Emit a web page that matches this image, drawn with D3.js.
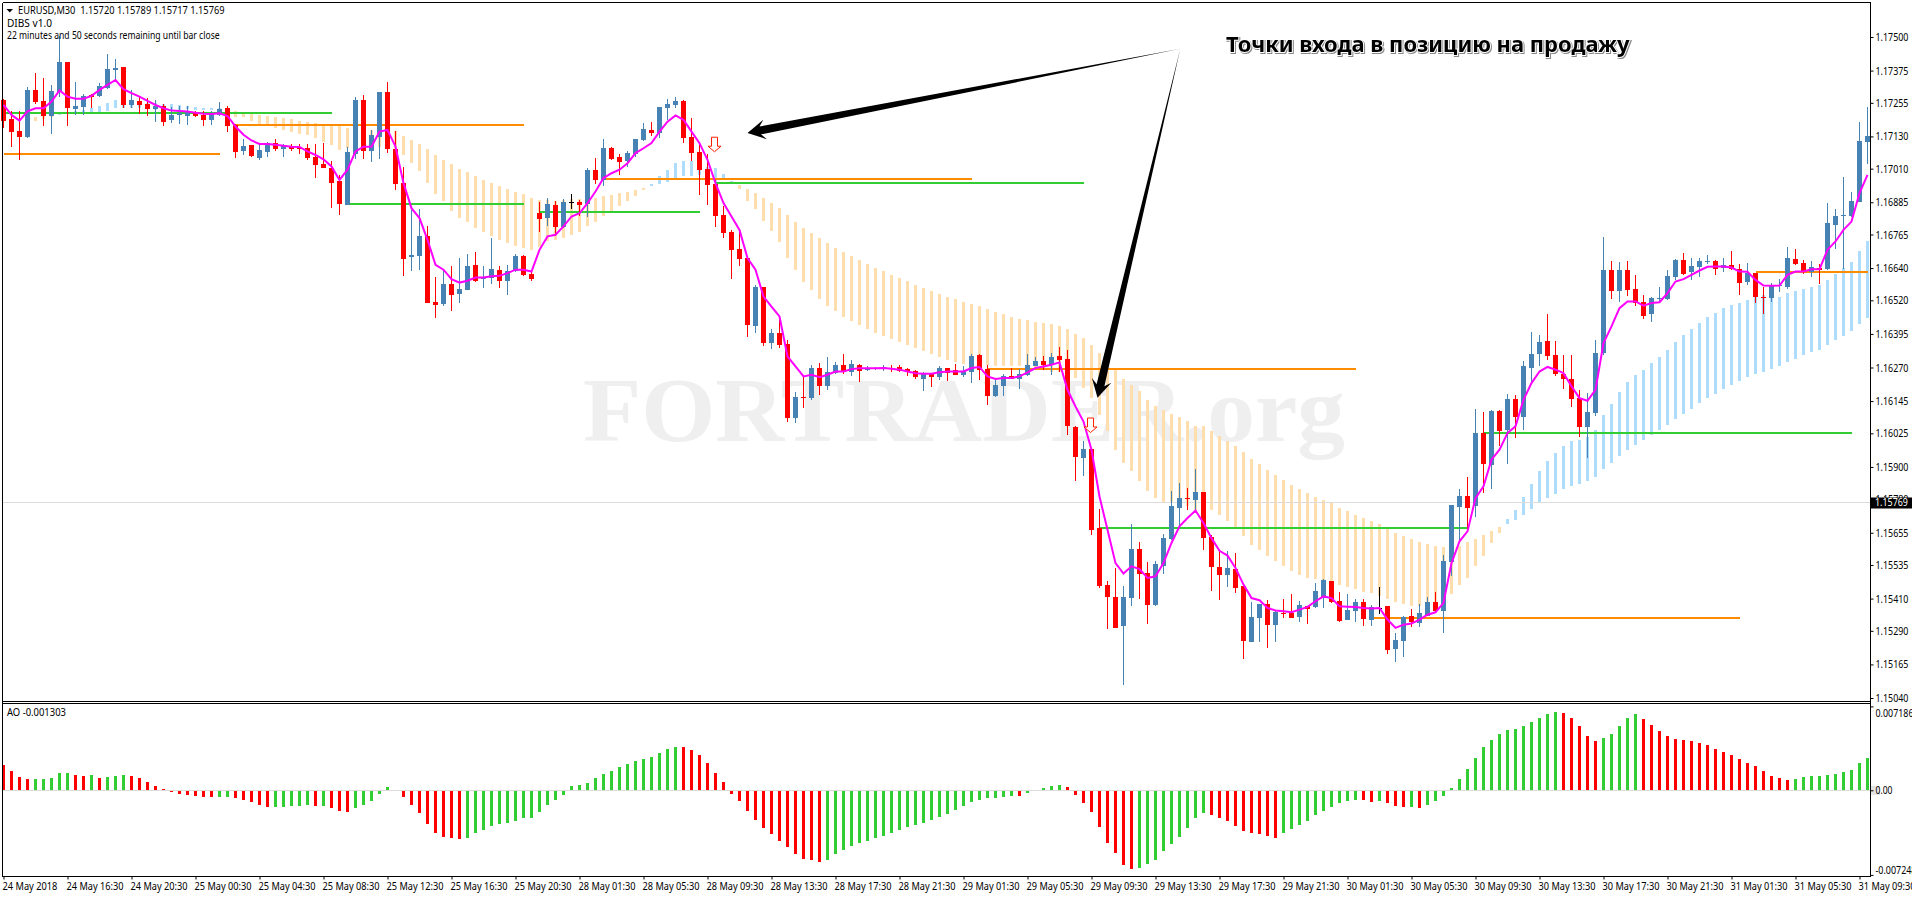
<!DOCTYPE html>
<html><head><meta charset="utf-8">
<script src="https://cdnjs.cloudflare.com/ajax/libs/d3/7.8.5/d3.min.js"></script>
<style>
html,body{margin:0;padding:0;background:#fff;overflow:hidden}
svg{display:block}
text{font-family:"Noto Sans",sans-serif;font-size:11px;fill:#000;white-space:pre}
.tick text{font-family:"Noto Sans",sans-serif;font-size:11px}
</style></head><body><svg id="c" width="1912" height="897"></svg>
<script>
// All prices are stored as points above 1.00000 (17266 = 1.17266)
const opens=[17266,17195,17151,17127,17303,17262,17206,17297,17407,17233,17240,17285,17281,17311,17379,17389,17247,17262,17251,17233,17244,17192,17210,17206,17221,17210,17192,17210,17236,17173,17076,17099,17050,17073,17106,17084,17095,17091,17087,17054,17028,17013,16965,16875,17065,17266,17076,17128,17296,17084,16957,16682,16686,16760,16515,16507,16582,16544,16559,16652,16599,16604,16634,16593,16630,16686,16619,16846,16827,16875,16794,16887,16887,16879,17006,16968,17087,17054,17039,17065,17117,17154,17143,17236,17247,17262,17128,17073,17009,16954,16838,16775,16712,16678,16425,16570,16362,16399,16358,16083,16161,16157,16269,16202,16250,16280,16254,16280,16262,16265,16265,16269,16273,16265,16258,16228,16247,16236,16269,16262,16243,16254,16317,16265,16165,16202,16239,16228,16243,16276,16295,16280,16314,16302,16050,15934,15968,15674,15462,15417,15309,15413,15596,15506,15387,15532,15633,15748,15785,15778,15808,15640,15529,15499,15521,15458,15250,15339,15391,15313,15358,15358,15343,15384,15380,15413,15477,15402,15332,15365,15399,15332,15376,15384,15224,15253,15346,15320,15346,15399,15365,15547,15752,15793,15756,16027,15908,16109,16038,16154,16087,16269,16321,16369,16317,16247,16228,16157,16050,16102,16325,16634,16555,16634,16563,16515,16470,16526,16526,16608,16671,16626,16645,16662,16667,16641,16652,16637,16589,16622,16533,16529,16574,16570,16674,16660,16626,16641,16637,16801,16834,16834,16887,17110];
const closes=[17189,17147,17128,17303,17259,17206,17299,17407,17237,17244,17280,17276,17318,17381,17385,17247,17266,17247,17233,17244,17184,17210,17218,17225,17206,17192,17218,17233,17169,17073,17095,17058,17080,17106,17084,17099,17084,17084,17050,17024,17013,16957,16879,17073,17266,17076,17136,17296,17084,16954,16674,16689,16760,16511,16503,16582,16541,16563,16648,16593,16608,16637,16593,16630,16686,16615,16600,16823,16879,16794,16887,16887,16875,17006,16968,17087,17047,17035,17069,17121,17158,17143,17240,17251,17262,17125,17069,17006,16950,16835,16771,16708,16674,16429,16570,16362,16399,16355,16083,16161,16157,16269,16202,16254,16280,16254,16284,16258,16269,16268,16273,16265,16258,16254,16236,16249,16236,16269,16250,16243,16258,16314,16262,16165,16206,16239,16228,16247,16280,16295,16279,16310,16299,16053,15938,15968,15666,15458,15417,15302,15417,15596,15503,15387,15540,15637,15756,15785,15782,15808,15637,15529,15499,15525,15451,15253,15343,15391,15313,15361,15354,15339,15387,15372,15440,15480,15399,15328,15369,15399,15335,15380,15376,15220,15257,15343,15324,15358,15399,15365,15551,15759,15793,15748,16027,15912,16109,16035,16154,16087,16276,16321,16366,16314,16247,16228,16154,16050,16105,16325,16634,16555,16634,16559,16511,16462,16529,16529,16611,16671,16619,16648,16667,16666,16637,16652,16637,16585,16622,16533,16529,16574,16578,16678,16656,16626,16645,16634,16808,16834,16838,16890,17113,17132];
const highs=[17268,17223,17223,17313,17365,17347,17322,17502,17407,17334,17288,17288,17328,17437,17417,17389,17303,17281,17272,17266,17251,17241,17244,17244,17225,17223,17225,17259,17244,17177,17121,17099,17102,17110,17120,17102,17102,17102,17102,17102,17105,17038,16987,17091,17277,17285,17154,17296,17333,17151,17018,16857,16861,16797,16608,16634,16648,16678,16693,16701,16648,16753,16648,16652,16693,16689,16630,16887,16901,16890,16898,16916,16894,17013,17050,17121,17091,17065,17076,17121,17180,17184,17240,17270,17277,17266,17199,17110,17065,16968,16872,16782,16782,16678,16578,16570,16414,16462,16373,16180,16239,16280,16288,16310,16289,16321,16299,16284,16274,16272,16278,16280,16280,16269,16262,16254,16250,16276,16269,16284,16274,16321,16321,16280,16224,16247,16269,16265,16321,16310,16314,16325,16348,16336,16053,15998,15968,15745,15477,15525,15458,15689,15622,15547,15551,15652,15811,15841,15823,15893,15808,15648,15592,15588,15581,15458,15399,15391,15406,15365,15410,15428,15402,15384,15469,15484,15477,15436,15428,15410,15410,15387,15454,15384,15283,15346,15372,15391,15417,15436,15573,15759,15819,15864,16117,16105,16113,16113,16172,16169,16295,16403,16392,16470,16369,16317,16317,16187,16176,16373,16756,16667,16663,16667,16615,16541,16533,16570,16634,16675,16697,16678,16678,16689,16671,16678,16704,16656,16660,16622,16570,16585,16600,16719,16712,16671,16667,16656,16883,16860,16979,16924,17184,17240];
const lows=[17161,17092,17043,17123,17251,17169,17140,17276,17167,17210,17210,17234,17276,17308,17340,17234,17235,17214,17206,17184,17169,17179,17177,17173,17204,17169,17173,17206,17147,17050,17060,17055,17043,17053,17076,17053,17076,17065,17043,16976,17013,16864,16838,16875,17047,17045,17035,17047,17069,16931,16611,16630,16634,16511,16455,16500,16481,16511,16559,16589,16567,16582,16567,16541,16626,16611,16593,16775,16797,16760,16790,16860,16834,16831,16953,16946,17043,16987,17018,17055,17113,17132,17125,17192,17236,17106,17039,16913,16875,16794,16753,16600,16648,16384,16399,16351,16340,16343,16068,16064,16120,16150,16169,16187,16247,16247,16237,16217,16258,16262,16258,16254,16254,16239,16228,16183,16198,16224,16221,16243,16236,16213,16224,16131,16162,16165,16228,16191,16239,16276,16262,16243,16254,16020,15849,15867,15648,15451,15298,15302,15090,15384,15410,15317,15384,15503,15629,15670,15741,15741,15592,15440,15406,15454,15432,15186,15250,15250,15227,15250,15339,15339,15324,15317,15376,15376,15395,15324,15332,15324,15309,15309,15354,15205,15175,15194,15306,15306,15346,15361,15283,15495,15629,15666,15715,15804,15819,15979,15912,16009,16038,16213,16276,16299,16239,16191,16124,16012,15934,16090,16317,16526,16515,16537,16500,16451,16440,16510,16522,16596,16615,16596,16608,16656,16615,16626,16634,16541,16578,16511,16470,16515,16552,16563,16652,16619,16608,16582,16634,16712,16637,16831,16887,17028];
const signalLine=[17247,17210,17189,17223,17235,17235,17260,17301,17278,17270,17270,17281,17303,17322,17340,17306,17291,17278,17262,17247,17235,17226,17225,17223,17218,17214,17213,17216,17206,17167,17136,17115,17102,17102,17099,17095,17092,17091,17074,17061,17045,17018,16968,17006,17074,17092,17092,17148,17154,17092,16956,16863,16826,16745,16652,16634,16599,16586,16593,16605,16605,16610,16611,16621,16634,16634,16627,16708,16758,16764,16795,16832,16844,16882,16925,16975,16993,17006,17030,17068,17086,17105,17148,17185,17208,17192,17148,17105,17043,16956,16882,16832,16782,16677,16634,16534,16497,16460,16311,16274,16237,16243,16234,16243,16255,16255,16264,16267,16267,16267,16268,16265,16262,16255,16249,16247,16247,16252,16255,16255,16255,16268,16272,16237,16227,16231,16231,16237,16252,16268,16274,16280,16289,16187,16125,16069,15964,15790,15666,15542,15503,15530,15520,15487,15493,15542,15617,15679,15710,15738,15691,15635,15588,15570,15524,15462,15412,15404,15375,15366,15363,15359,15369,15379,15400,15418,15412,15381,15380,15379,15375,15373,15375,15332,15301,15313,15317,15332,15350,15359,15394,15542,15623,15660,15784,15828,15927,15964,16026,16051,16150,16212,16255,16272,16262,16249,16200,16156,16146,16187,16361,16423,16491,16516,16516,16500,16510,16513,16547,16590,16599,16615,16631,16645,16646,16646,16642,16627,16626,16596,16575,16574,16575,16615,16627,16627,16636,16636,16708,16739,16782,16813,16919,16987];
const cloudTop=[null,null,null,null,17204,17206,17210,17216,17219,17223,17229,17237,17244,17256,17266,17266,17264,17260,17256,17254,17251,17250,17247,17244,17239,17236,17236,17235,17229,17225,17219,17214,17210,17206,17203,17199,17195,17188,17184,17180,17177,17173,17169,17161,17161,17157,17154,17154,17154,17151,17132,17117,17102,17084,17061,17043,17028,17009,16998,16983,16968,16957,16946,16935,16924,16916,16901,16894,16894,16890,16894,16898,16898,16898,16901,16909,16913,16920,16924,16931,16939,16953,16981,17006,17030,17039,17039,17030,17018,17014,16991,16965,16950,16935,16920,16901,16883,16864,16838,16812,16790,16771,16753,16734,16715,16701,16686,16671,16656,16641,16630,16615,16604,16593,16578,16567,16555,16544,16533,16526,16515,16507,16500,16488,16477,16470,16459,16451,16448,16440,16436,16433,16425,16414,16396,16381,16355,16324,16286,16259,16228,16206,16181,16150,16128,16113,16098,16085,16072,16053,16051,16035,16016,15997,15979,15954,15930,15911,15890,15871,15852,15834,15819,15804,15789,15778,15767,15748,15737,15722,15711,15700,15689,15670,15655,15644,15633,15622,15614,15607,15603,15592,15607,15622,15633,15648,15663,15678,15707,15741,15789,15838,15886,15923,15953,15979,15997,16001,16012,16038,16094,16135,16180,16217,16243,16262,16288,16310,16336,16366,16392,16414,16436,16459,16474,16492,16503,16511,16522,16533,16541,16533,16533,16548,16555,16563,16570,16578,16596,16619,16641,16663,16704,16741];
const cloudBottom=[null,null,null,null,17189,17194,17202,17210,17214,17216,17216,17220,17220,17225,17234,17235,17235,17235,17233,17229,17223,17223,17229,17231,17229,17229,17229,17226,17216,17204,17203,17188,17173,17169,17162,17154,17147,17140,17136,17125,17111,17099,17080,17086,17086,17092,17092,17092,17092,17080,17061,17030,17002,16958,16916,16888,16853,16827,16812,16790,16775,16760,16745,16734,16723,16715,16708,16720,16739,16745,16753,16764,16776,16795,16813,16832,16851,16872,16888,16909,16931,16944,16953,16962,16975,16981,16983,16987,16978,16956,16975,16961,16935,16890,16860,16816,16779,16738,16678,16634,16589,16559,16526,16500,16481,16459,16444,16429,16414,16399,16388,16377,16366,16355,16343,16332,16321,16310,16299,16291,16284,16284,16280,16280,16276,16276,16276,16274,16264,16262,16259,16255,16252,16249,16231,16193,16156,16092,16032,15964,15914,15883,15849,15809,15784,15768,15766,15759,15753,15741,15741,15741,15720,15700,15676,15642,15611,15592,15567,15549,15530,15514,15499,15488,15484,15474,15468,15462,15454,15447,15436,15432,15421,15410,15399,15391,15384,15384,15380,15391,15406,15428,15462,15488,15530,15570,15618,15655,15689,15704,15722,15745,15767,15785,15800,15819,15830,15838,15849,15864,15893,15916,15942,15964,15983,16001,16020,16038,16057,16079,16098,16115,16139,16157,16172,16191,16206,16221,16236,16247,16254,16265,16276,16291,16302,16317,16329,16336,16355,16373,16388,16407,16433,16455];
const cloudBlueRanges=[[7,27],[81,91],[188,233]];
// Awesome Oscillator, millionths
const aoValues=[2174,1659,1144,972,972,972,1058,1487,1487,1316,1230,1316,1058,1144,1230,1316,1230,1058,715,372,114,-114,-315,-400,-486,-572,-601,-572,-572,-658,-829,-1001,-1258,-1430,-1430,-1430,-1344,-1344,-1258,-1344,-1344,-1516,-1773,-1859,-1516,-1258,-915,-315,286,0,-572,-1258,-1945,-2889,-3661,-4004,-4090,-4176,-4090,-3661,-3403,-3060,-2889,-2803,-2631,-2374,-2374,-1859,-1258,-829,-400,372,458,629,1058,1401,1659,2002,2259,2517,2688,2860,3203,3546,3718,3689,3461,3032,2345,1487,715,-315,-915,-1773,-2545,-3232,-3747,-4347,-4862,-5463,-5892,-5977,-6149,-5977,-5463,-5119,-4776,-4519,-4347,-4090,-3918,-3661,-3403,-3146,-2974,-2803,-2545,-2288,-2031,-1687,-1344,-1001,-829,-658,-658,-572,-486,-515,-229,0,200,372,458,286,-400,-1087,-1859,-3146,-4519,-5377,-6406,-6750,-6664,-6321,-5977,-5205,-4605,-4004,-3232,-2374,-1945,-2116,-2374,-2631,-3060,-3489,-3661,-3747,-3918,-4090,-3661,-3318,-2974,-2631,-2116,-1773,-1430,-1087,-915,-829,-858,-1001,-915,-1087,-1344,-1430,-1430,-1516,-1258,-915,-486,200,972,1830,2774,3718,4319,4833,5177,5262,5520,5863,6206,6549,6721,6635,6206,5520,4662,4233,4490,4833,5520,6206,6549,6120,5606,5091,4662,4404,4319,4233,4061,3890,3546,3289,3032,2688,2345,2088,1659,1230,1058,887,972,1144,1230,1230,1316,1401,1573,1745,2345,2774];
// Horizontal levels: [first bar, last bar, price points]
const orangeLevels=[[0,27,17065],[29,65,17173],[75,121,16972],[123,169,16265],[171,217,15337],[219,233,16624]];
const greenLevels=[[0,41,17219],[43,65,16879],[67,87,16847],[89,135,16955],[137,183,15674],[185,231,16028]];
const sellSignals=[[89,17127],[136,16082]];
// Callout arrows: [bar, price points]
const calloutTail=[147.1,17456];
const calloutTips=[[93,17143],[136.75,16157]];
const priceTicks=["1.17500","1.17375","1.17255","1.17130","1.17010","1.16885","1.16765","1.16640","1.16520","1.16395","1.16270","1.16145","1.16025","1.15900","1.15780","1.15655","1.15535","1.15410","1.15290","1.15165","1.15040"];
const aoTicks=["0.007186","0.00","-0.007248"];
const timeLabels=["24 May 2018","24 May 16:30","24 May 20:30","25 May 00:30","25 May 04:30","25 May 08:30","25 May 12:30","25 May 16:30","25 May 20:30","28 May 01:30","28 May 05:30","28 May 09:30","28 May 13:30","28 May 17:30","28 May 21:30","29 May 01:30","29 May 05:30","29 May 09:30","29 May 13:30","29 May 17:30","29 May 21:30","30 May 01:30","30 May 05:30","30 May 09:30","30 May 13:30","30 May 17:30","30 May 21:30","31 May 01:30","31 May 05:30","31 May 09:30"];
const currentPrice=1.15769;

const P=v=>1+v/1e5;
const svg=d3.select("#c");
const W={left:2.5,right:1870.5,top:2.5,sep1:701.5,sep2:703.5,bottom:876.5};
const x=d3.scaleLinear().domain([0,233]).range([3.5,1867.5]);
const y=d3.scaleLinear().domain([1.1504,1.175]).range([698,37]);
const yAO=d3.scaleLinear().domain([-0.007248,0.007186]).range([874.9,706.4]);
const bars=d3.range(opens.length);

// squeezes a text horizontally about its own anchor so that it occupies `len` pixels
function fit(node,len){
 const t=d3.select(node),nat=node.getComputedTextLength(),tx=+t.attr("x")||0,dx=+t.attr("dx")||0,s=len/nat;
 t.attr("transform",`translate(${tx+dx},0) scale(${s},1) translate(${-(tx+dx)},0)`);
}

// watermark
svg.append("text").attr("x",583).attr("y",441)
 .style("font-family","'Liberation Serif',serif").style("font-weight","bold").style("font-size","92px").style("fill","#EFEFEF").text("FORTRADER.org")
 .each(function(){fit(this,762)});

// cloud
const isBlue=i=>cloudBlueRanges.some(r=>i>=r[0]&&i<=r[1]);
svg.append("g").attr("shape-rendering","crispEdges").selectAll("rect").data(bars.filter(i=>cloudTop[i]!==null)).join("rect")
 .attr("x",i=>x(i)-1.5).attr("width",3).attr("y",i=>y(P(cloudTop[i]))).attr("height",i=>Math.max(1,y(P(cloudBottom[i]))-y(P(cloudTop[i]))))
 .attr("fill",i=>isBlue(i)?"#AEDCFC":"#FFDEAD");

// current price line and levels
svg.append("line").attr("x1",W.left).attr("x2",W.right).attr("y1",Math.round(y(currentPrice))+.5).attr("y2",Math.round(y(currentPrice))+.5).attr("stroke","#DCDCDC").attr("shape-rendering","crispEdges");
const lev=(arr,col)=>svg.append("g").selectAll("line").data(arr).join("line")
 .attr("x1",d=>x(d[0])).attr("x2",d=>x(d[1])).attr("y1",d=>y(P(d[2]))).attr("y2",d=>y(P(d[2]))).attr("stroke",col).attr("stroke-width",2).attr("shape-rendering","crispEdges");
lev(orangeLevels,"#FF8C00"); lev(greenLevels,"#32CD32");

// candles
const col=i=>closes[i]>opens[i]?"#4682B4":closes[i]<opens[i]?"#FF0000":"#000000";
const cg=svg.append("g").attr("shape-rendering","crispEdges");
cg.selectAll("line").data(bars).join("line").attr("x1",i=>x(i)).attr("x2",i=>x(i))
 .attr("y1",i=>y(P(highs[i]))).attr("y2",i=>y(P(lows[i]))).attr("stroke",col);
cg.selectAll("rect").data(bars).join("rect").attr("x",i=>x(i)-2.5).attr("width",5)
 .attr("y",i=>y(P(Math.max(opens[i],closes[i])))).attr("height",i=>Math.max(1,Math.abs(y(P(opens[i]))-y(P(closes[i])))))
 .attr("fill",col);

// magenta line
svg.append("path").attr("d",d3.line().x((d,i)=>x(i)).y(d=>y(P(d)))(signalLine)).attr("fill","none").attr("stroke","#FF00FF").attr("stroke-width",2);

// sell signal arrows
svg.append("g").selectAll("path").data(sellSignals).join("path")
 .attr("transform",d=>`translate(${x(d[0])-1},${y(P(d[1]))})`)
 .attr("d","M-3,0H3V9H6.5L0,14.5L-6.5,9H-3Z").attr("fill","#fff").attr("stroke","#FF2000").attr("stroke-width",1);

// AO histogram
const aoV=v=>v*1e-6;
svg.append("g").attr("shape-rendering","crispEdges").selectAll("rect").data(bars).join("rect")
 .attr("x",i=>x(i)-1.5).attr("width",3)
 .attr("y",i=>Math.min(yAO(0),yAO(aoV(aoValues[i])))).attr("height",i=>Math.abs(yAO(0)-yAO(aoV(aoValues[i]))))
 .attr("fill",i=>(i>0&&aoValues[i]>=aoValues[i-1])?"#32CD32":"#FF0000");
svg.append("line").attr("x1",W.left).attr("x2",W.right).attr("y1",Math.round(yAO(0))+.5).attr("y2",Math.round(yAO(0))+.5).attr("stroke","#DCDCDC").attr("shape-rendering","crispEdges");

// frame
const frame=svg.append("g").attr("stroke","#000").attr("shape-rendering","crispEdges");
[[W.left,W.top,W.right,W.top],[W.left,W.sep1,W.right,W.sep1],[W.left,W.sep2,W.right,W.sep2],[W.left,W.bottom,W.right,W.bottom],[W.left,W.top,W.left,W.bottom],[W.right,W.top,W.right,W.bottom]]
 .forEach(l=>frame.append("line").attr("x1",l[0]).attr("y1",l[1]).attr("x2",l[2]).attr("y2",l[3]));

// axes
const pAxis=d3.axisRight(y).tickValues(priceTicks.map(Number)).tickFormat(d3.format(".5f")).tickSize(3).tickPadding(2);
const gP=svg.append("g").attr("transform",`translate(${W.right},0)`).call(pAxis);
gP.select(".domain").remove();
gP.selectAll("text").each(function(){fit(this,33)});

svg.append("rect").attr("x",1871).attr("y",786).attr("width",9).attr("height",9).attr("fill","#E4E4E4");
const aAxis=d3.axisRight(yAO).tickValues(aoTicks.map(Number)).tickFormat((d,i)=>aoTicks[i]).tickSize(3).tickPadding(2);
const gA=svg.append("g").attr("transform",`translate(${W.right},0)`).call(aAxis);
gA.select(".domain").remove();
gA.selectAll("text").attr("dy",(d,i)=>["0.9em","0.32em","-0.15em"][i]).each(function(d,i){fit(this,[38,17,41][i])});

const tAxis=d3.axisBottom(x).tickValues(timeLabels.map((d,i)=>i*8)).tickFormat(v=>timeLabels[v/8]).tickSize(3).tickPadding(3);
const gT=svg.append("g").attr("transform",`translate(0,${W.bottom})`).call(tAxis);
gT.select(".domain").remove();
gT.selectAll("text").attr("text-anchor","start").attr("dx",-1.5).each(function(d,i){fit(this,i==0?55:57)});

// current price tag
svg.append("rect").attr("x",1871).attr("y",497.5).attr("width",41).attr("height",11).attr("fill","#000");
svg.append("text").attr("x",1875).attr("y",y(currentPrice)+4).style("fill","#fff").text(currentPrice.toFixed(5)).each(function(){fit(this,33)});

// header
const label=(tx,ty,len,s)=>svg.append("text").attr("x",tx).attr("y",ty).text(s).each(function(){fit(this,len)});
svg.append("path").attr("d",d3.line()([[6.5,9],[13,9],[9.75,12.5]])+"Z").attr("fill","#000");
label(18,14,207,"EURUSD,M30  1.15720 1.15789 1.15717 1.15769");
label(7,27,45,"DIBS v1.0");
label(7,39.5,213,"22 minutes and 50 seconds remaining until bar close");
label(7,716,59,"AO -0.001303");

// callouts
function callout(tail,tip){
 const ax=x(tail[0]),ay=y(P(tail[1])),bx=x(tip[0]),by=y(P(tip[1]));
 const L=Math.hypot(bx-ax,by-ay),ux=(bx-ax)/L,uy=(by-ay)/L,nx=-uy,ny=ux;
 const hl=18,hw=10,sw=4,nl=13;
 const pt=(d,o)=>[ax+ux*d+nx*o,ay+uy*d+ny*o];
 const pts=[pt(0,0),pt(L-nl,sw),pt(L-hl,hw),pt(L,0),pt(L-hl,-hw),pt(L-nl,-sw)];
 svg.append("path").attr("d",d3.line()(pts)+"Z").attr("fill","#000");
}
calloutTips.forEach(t=>callout(calloutTail,t));
svg.append("text").attr("x",1226).attr("y",52)
 .style("font-size","22px").style("font-weight","bold").style("fill","#000")
 .style("stroke","#fff").style("stroke-width","2px").style("paint-order","stroke")
 .style("filter","drop-shadow(1.5px 1.5px 0.5px #888)")
 .text("Точки входа в позицию на продажу").each(function(){fit(this,404)});
</script></body></html>
